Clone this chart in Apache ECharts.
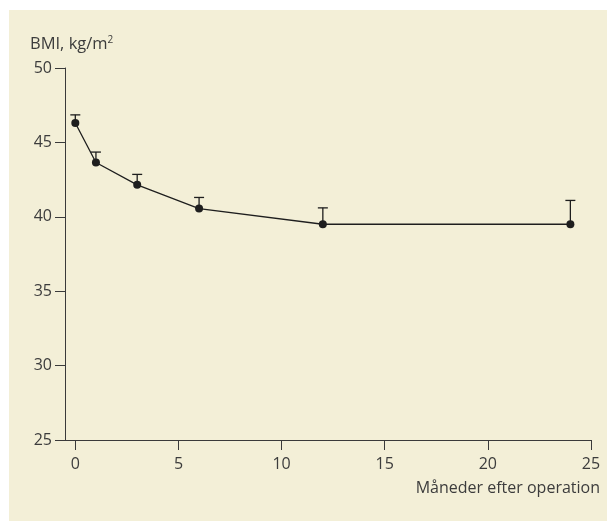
<!DOCTYPE html>
<html>
<head>
<meta charset="utf-8">
<script src="https://cdn.jsdelivr.net/npm/echarts@6/dist/echarts.min.js"></script>
<style>
html,body{margin:0;padding:0;background:#ffffff;}
#chart{width:607px;height:521px;}
</style>
</head>
<body>
<div id="chart"></div>
<script>
const months = [0, 1, 3, 6, 12, 24];
const bmi = [46.3, 43.65, 42.15, 40.55, 39.5, 39.5];
const upper = [46.85, 44.35, 42.85, 41.3, 40.6, 41.1];
const xTicks = [0, 5, 10, 15, 20, 25];
const yTicks = [25, 30, 35, 40, 45, 50];
const yTitle = 'BMI, kg/m';
const xTitle = 'Måneder efter operation';

const FONT = '"Open Sans", sans-serif';
const TXT = '#3c3c3c';
const INK = '#1e1e1e';

const chart = echarts.init(document.getElementById('chart'), null, {renderer: 'canvas'});
const option = {
  animation: false,
  backgroundColor: '#ffffff',
  graphic: [
    {type: 'rect', z: -10, silent: true, shape: {x: 9, y: 10, width: 598, height: 511}, style: {fill: '#f3efd7'}},
    {type: 'text', left: 30, top: 35, style: {
      rich: {a: {fontFamily: FONT, fontSize: 16.5, fill: TXT}, s: {fontFamily: FONT, fontSize: 10, fill: TXT, verticalAlign: 'top', padding: [0,0,9,0]}},
      text: '{a|' + yTitle + '}{s|2}'
    }},
    {type: 'text', right: 7, top: 480, style: {text: xTitle, fontFamily: FONT, fontSize: 16, fill: TXT}}
  ],
  grid: {left: 65, right: 16, top: 68, bottom: 81, containLabel: false},
  xAxis: {
    type: 'value', min: -0.5, max: 25,
    axisLine: {show: true, onZero: false, lineStyle: {color: '#3a3a3a', width: 1}},
    axisTick: {show: true, length: 10, lineStyle: {color: '#3a3a3a', width: 1}, customValues: xTicks},
    axisLabel: {color: TXT, fontFamily: FONT, fontSize: 16, margin: 16, customValues: xTicks},
    splitLine: {show: false}
  },
  yAxis: {
    type: 'value', min: 25, max: 50, interval: 5,
    axisLine: {show: true, onZero: false, lineStyle: {color: '#3a3a3a', width: 1}},
    axisTick: {show: true, length: 10, lineStyle: {color: '#3a3a3a', width: 1}},
    axisLabel: {color: TXT, fontFamily: FONT, fontSize: 16, margin: 13},
    splitLine: {show: false}
  },
  series: [
    {
      type: 'custom',
      z: 3,
      data: months.map((m, i) => [m, bmi[i], upper[i]]),
      renderItem: function (params, api) {
        const x = api.value(0);
        const p0 = api.coord([x, api.value(1)]);
        const p1 = api.coord([x, api.value(2)]);
        const hw = 5;
        return {
          type: 'group',
          children: [
            {type: 'line', shape: {x1: p0[0], y1: p0[1], x2: p1[0], y2: p1[1]}, style: {stroke: INK, lineWidth: 1.3}},
            {type: 'line', shape: {x1: p1[0] - hw, y1: p1[1], x2: p1[0] + hw, y2: p1[1]}, style: {stroke: INK, lineWidth: 1.3}}
          ]
        };
      }
    },
    {
      type: 'line',
      z: 4,
      data: months.map((m, i) => [m, bmi[i]]),
      symbol: 'circle', symbolSize: 8,
      lineStyle: {color: INK, width: 1.3},
      itemStyle: {color: INK}
    }
  ]
};
chart.setOption(option);
</script>
</body>
</html>
